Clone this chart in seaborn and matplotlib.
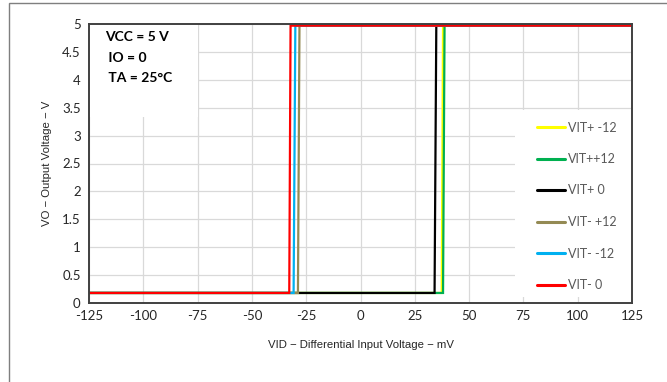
import matplotlib
matplotlib.use("Agg")
import matplotlib.pyplot as plt
from matplotlib.patches import Rectangle
import pandas as pd
import seaborn as sns

# Output voltage vs differential input voltage, six threshold sweeps
series_names = ["VIT+ -12", "VIT++12", "VIT+ 0", "VIT- +12", "VIT- -12", "VIT- 0"]
series_colors = ["#FFFF00", "#00B050", "#000000", "#948A54", "#00B0F0", "#FF0000"]

vid_vit_pos_m12 = [-125, 37.4, 38.0, 125]
vid_vit_pos_p12 = [-125, 38.0, 38.7, 125]
vid_vit_pos_0 = [-125, 34.1, 34.9, 125]
vid_vit_neg_p12 = [-125, -28.8, -28.1, 125]
vid_vit_neg_m12 = [-125, -30.8, -30.0, 125]
vid_vit_neg_0 = [-125, -32.8, -32.2, 125]
vo_levels = [0.18, 0.18, 4.97, 4.97]

x_ticks = [-125, -100, -75, -50, -25, 0, 25, 50, 75, 100, 125]
y_ticks = [0, 0.5, 1, 1.5, 2, 2.5, 3, 3.5, 4, 4.5, 5]
y_tick_labels = ["0", "0.5", "1", "1.5", "2", "2.5", "3", "3.5", "4", "4.5", "5"]
conditions = ["VCC = 5 V", " IO = 0", " TA = 25°C"]

sweeps = [vid_vit_pos_m12, vid_vit_pos_p12, vid_vit_pos_0,
          vid_vit_neg_p12, vid_vit_neg_m12, vid_vit_neg_0]
rows = []
for name, xs in zip(series_names, sweeps):
    for i, (xv, yv) in enumerate(zip(xs, vo_levels)):
        rows.append({"series": name, "step": i, "VID": xv, "VO": yv})
df = pd.DataFrame(rows)

sns.set_theme(style="white")
plt.rcParams["font.family"] = ["Lato", "DejaVu Sans"]

W, H = 667, 382
fig = plt.figure(figsize=(W / 100, H / 100), dpi=100)
ax_l, ax_r, ax_t, ax_b = 89, 632, 24, 303
ax = fig.add_axes([ax_l / W, 1 - ax_b / H, (ax_r - ax_l) / W, (ax_b - ax_t) / H])

def ax_x(px):
    return (px - ax_l) / (ax_r - ax_l)

def ax_y(py):
    return (ax_b - py) / (ax_b - ax_t)

sns.lineplot(data=df, x="VID", y="VO", hue="series", hue_order=series_names,
             palette=dict(zip(series_names, series_colors)), sort=False,
             estimator=None, units="series", linewidth=1.6, ax=ax)
for ln in ax.get_lines():
    ln.set_solid_joinstyle("miter")

ax.set_xlim(-125, 125)
ax.set_ylim(0, 5)
ax.set_xticks(x_ticks)
ax.set_xticklabels([str(v) for v in x_ticks])
ax.set_yticks(y_ticks)
ax.set_yticklabels(y_tick_labels)
ax.tick_params(axis="both", length=0, labelsize=9.5, colors="#262626")
ax.tick_params(axis="x", pad=5)
ax.tick_params(axis="y", pad=6)
ax.grid(True, color="#d9d9d9", linewidth=0.9)
ax.set_axisbelow(True)
for sp in ax.spines.values():
    sp.set_color("#404040")
    sp.set_linewidth(1.4)

label_font = ["Liberation Sans Narrow", "Liberation Sans", "DejaVu Sans"]
ax.set_xlabel("VID \u2212 Differential Input Voltage \u2212 mV", family=label_font,
              fontsize=8.2, color="#262626", labelpad=13)
ax.set_ylabel("VO \u2212 Output Voltage \u2212 V", family=label_font,
              fontsize=8.2, color="#262626", labelpad=7)

# white panel behind the operating conditions
ax.add_patch(Rectangle((0, ax_y(117)), ax_x(198), 1 - ax_y(117), transform=ax.transAxes,
                       facecolor="white", edgecolor="none", zorder=1.5))
for i, txt in enumerate(conditions):
    ax.text(ax_x(105), ax_y(37 + 20.5 * i), txt, transform=ax.transAxes,
            fontsize=10, fontweight="bold", color="#000000", va="center", ha="left",
            zorder=4)

# white panel behind the legend
ax.add_patch(Rectangle((ax_x(515), ax_y(297)), 1 - ax_x(515), ax_y(110) - ax_y(297),
                       transform=ax.transAxes, facecolor="white", edgecolor="none",
                       zorder=1.5))
handles, labels = ax.get_legend_handles_labels()
leg = ax.legend(handles, labels, loc="upper left",
                bbox_to_anchor=(ax_x(536.5), ax_y(121.5)), frameon=False,
                borderaxespad=0, borderpad=0, handlelength=2.3, handletextpad=0.2,
                labelspacing=1.56, fontsize=9)
for t in leg.get_texts():
    t.set_color("#595959")
for h in leg.get_lines():
    h.set_linewidth(2.2)

# outer chart border
fig.add_artist(Rectangle((9 / W, -0.2), 1.2, 1.2 - 2.7 / H,
                         transform=fig.transFigure, fill=False,
                         edgecolor="#7f7f7f", linewidth=1.0))

fig.savefig("out.png", dpi=100)
